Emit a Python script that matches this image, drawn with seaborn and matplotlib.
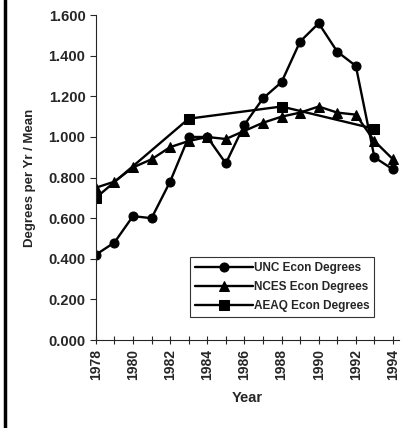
import matplotlib
matplotlib.use("Agg")
import matplotlib.pyplot as plt
from matplotlib.lines import Line2D
from matplotlib.ticker import MultipleLocator, FuncFormatter
import pandas as pd
import seaborn as sns

# data
years = list(range(1978, 1995))
unc = [0.42, 0.48, 0.61, 0.60, 0.78, 1.00, 1.00, 0.87, 1.06, 1.19, 1.27,
       1.47, 1.56, 1.42, 1.35, 0.90, 0.84]
nces = [0.75, 0.78, 0.85, 0.89, 0.95, 0.98, 1.00, 0.99, 1.03, 1.07, 1.10,
        1.12, 1.15, 1.12, 1.11, 0.98, 0.89]
aeaq_years = [1978, 1983, 1988, 1993]
aeaq = [0.70, 1.09, 1.15, 1.04]

df_unc = pd.DataFrame({"Year": years, "val": unc})
df_nces = pd.DataFrame({"Year": years, "val": nces})
df_aeaq = pd.DataFrame({"Year": aeaq_years, "val": aeaq})

sns.set_style("white")
plt.rcParams['font.family'] = ['Liberation Sans', 'DejaVu Sans']
plt.rcParams['font.weight'] = 'bold'

fig = plt.figure(figsize=(4.13, 4.28), dpi=100)
ax = fig.add_axes([0.232, 0.2056, 0.733, 0.759])

sty = dict(color="black", linewidth=1.7, markersize=6.5, markeredgecolor="black")
sns.lineplot(data=df_unc, x="Year", y="val", marker="o", label="UNC Econ Degrees", ax=ax, **sty)
sns.lineplot(data=df_nces, x="Year", y="val", marker="^", label="NCES Econ Degrees", ax=ax, **sty)
sns.lineplot(data=df_aeaq, x="Year", y="val", marker="s", label="AEAQ Econ Degrees", ax=ax, **sty)

ax.set_xlim(1978, 1994.3)
ax.set_ylim(0, 1.6)
ax.xaxis.set_major_locator(MultipleLocator(2))
ax.xaxis.set_minor_locator(MultipleLocator(1))
ax.yaxis.set_major_locator(MultipleLocator(0.2))
ax.yaxis.set_major_formatter(FuncFormatter(lambda v, p: f"{v:.3f}"))
ax.tick_params(axis="x", which="both", direction="inout", length=6, width=0.8,
               labelsize=10, labelrotation=90, bottom=True)
ax.tick_params(axis="y", direction="out", length=4, width=0.8, labelsize=10.5, left=True)
for lab in ax.get_xticklabels() + ax.get_yticklabels():
    lab.set_fontweight("bold")

sns.despine(ax=ax, top=True, right=True)
ax.spines["left"].set_linewidth(0.8)
ax.spines["bottom"].set_linewidth(0.8)

ax.set_xlabel("Year", fontsize=10.5, fontweight="bold", labelpad=8)
ax.set_ylabel("Degrees per Yr / Mean", fontsize=9.5, fontweight="bold", labelpad=9)

leg = ax.legend(loc="lower right", bbox_to_anchor=(0.92, 0.071), fontsize=8.5,
                frameon=True, fancybox=False, edgecolor="black",
                handlelength=4.9, handletextpad=0.1, borderpad=0.4,
                labelspacing=0.6, borderaxespad=0)
leg.get_frame().set_linewidth(0.8)
for t in leg.get_texts():
    t.set_fontweight("bold")

# thick border on the left edge of the scan
fig.add_artist(Line2D([0.012, 0.012], [0, 1], color="black", linewidth=2.5,
                      transform=fig.transFigure))

fig.savefig("out.png", dpi=100)
